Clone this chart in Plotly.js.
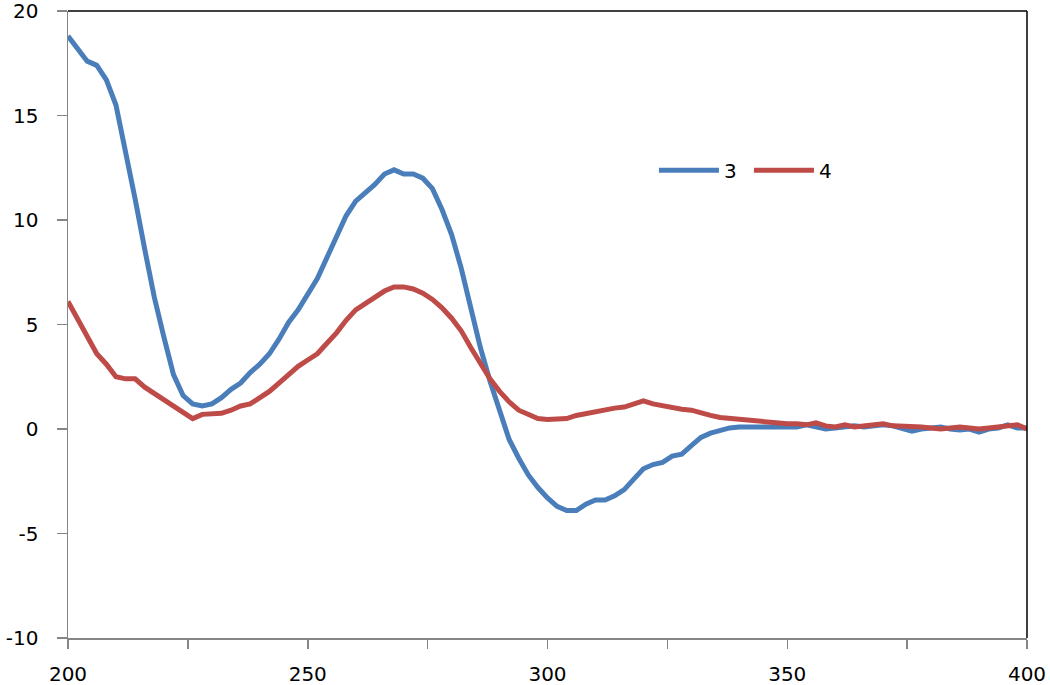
<!DOCTYPE html>
<html>
<head>
<meta charset="utf-8">
<script src="https://cdn.plot.ly/plotly-3.0.1.min.js"></script>
<style>
  body { margin: 0; background: #fff; }
  #chart { width: 1050px; height: 685px; }
</style>
</head>
<body>
<div id="chart"></div>
<script>
// wavelength (nm), every 2 nm
var wavelength = [];
for (var w = 200; w <= 400; w += 2) wavelength.push(w);

// series "3" (blue)
var series3 = [
  18.8, 18.2, 17.6, 17.4, 16.7, 15.5, 13.3, 11.0, 8.6, 6.3,
  4.4, 2.6, 1.6, 1.2, 1.1, 1.2, 1.5, 1.9, 2.2, 2.7,
  3.1, 3.6, 4.3, 5.1, 5.7, 6.4, 7.2, 8.2, 9.2, 10.2,
  10.9, 11.3, 11.7, 12.2, 12.4, 12.2, 12.2, 12.0, 11.5, 10.5,
  9.3, 7.7, 5.8, 3.9, 2.3, 0.8, -0.5, -1.4, -2.2, -2.8,
  -3.3, -3.7, -3.9, -3.9, -3.6, -3.4, -3.4, -3.2, -2.9, -2.4,
  -1.9, -1.7, -1.6, -1.3, -1.2, -0.8, -0.4, -0.2, -0.05, 0.05,
  0.1, 0.1, 0.15, 0.1, 0.15, 0.15, 0.1, 0.2, 0.1, 0.0,
  0.05, 0.1, 0.15, 0.1, 0.15, 0.2, 0.15, 0.0, -0.1, 0.0,
  0.05, 0.1, 0.0, -0.05, 0.0, -0.15, 0.0, 0.05, 0.2, 0.05,
  0.05
];

// series "4" (red)
var series4 = [
  6.1, 5.3, 4.4, 3.6, 3.1, 2.5, 2.4, 2.4, 2.0, 1.7,
  1.4, 1.1, 0.8, 0.5, 0.7, 0.75, 0.75, 0.9, 1.1, 1.2,
  1.5, 1.8, 2.2, 2.6, 3.0, 3.3, 3.6, 4.1, 4.6, 5.2,
  5.7, 6.0, 6.3, 6.6, 6.8, 6.8, 6.7, 6.5, 6.2, 5.8,
  5.3, 4.7, 3.9, 3.1, 2.4, 1.8, 1.3, 0.9, 0.7, 0.5,
  0.45, 0.5, 0.5, 0.65, 0.75, 0.8, 0.9, 1.0, 1.05, 1.2,
  1.35, 1.2, 1.1, 1.05, 0.95, 0.9, 0.75, 0.65, 0.55, 0.5,
  0.45, 0.45, 0.35, 0.3, 0.3, 0.25, 0.25, 0.2, 0.3, 0.15,
  0.1, 0.2, 0.1, 0.15, 0.2, 0.25, 0.15, 0.15, 0.1, 0.1,
  0.05, 0.0, 0.05, 0.1, 0.05, 0.0, 0.05, 0.1, 0.15, 0.2,
  0.0
];

// y tick labels use a plain hyphen like the original
var yTickVals = [-10, -5, 0, 5, 10, 15, 20];
var yTickText = ['-10', '-5', '0', '5', '10', '15', '20'];

var axisGray = '#868686';
var font = { family: 'DejaVu Sans, sans-serif', size: 20, color: '#000' };

var traces = [
  { x: wavelength, y: series3, name: '3', type: 'scatter', mode: 'lines',
    line: { color: '#4A7EBB', width: 5 } },
  { x: wavelength, y: series4, name: '4', type: 'scatter', mode: 'lines',
    line: { color: '#BE4B48', width: 5 } }
];

var layout = {
  width: 1050, height: 685,
  margin: { l: 68, r: 23, t: 11, b: 47 },
  paper_bgcolor: '#fff', plot_bgcolor: '#fff',
  font: font,
  showlegend: true,
  legend: {
    orientation: 'h', x: 0.611, y: 0.746, xanchor: 'left', yanchor: 'middle',
    bgcolor: 'rgba(0,0,0,0)', itemwidth: 60, entrywidth: 20, font: font
  },
  xaxis: {
    range: [200, 400], dtick: 50, tick0: 200,
    showgrid: false, zeroline: false,
    showline: true, linecolor: axisGray, linewidth: 1.5,
    ticks: 'outside', ticklen: 9, tickcolor: axisGray, tickwidth: 1.5,
    minor: { dtick: 25, ticks: 'outside', ticklen: 9, tickcolor: axisGray, tickwidth: 1.5 },
    ticklabelstandoff: 8, ticklabeloverflow: 'allow'
  },
  yaxis: {
    range: [-10, 20], tickmode: 'array', tickvals: yTickVals, ticktext: yTickText,
    showgrid: false, zeroline: false,
    showline: true, linecolor: axisGray, linewidth: 1.5,
    ticks: 'outside', ticklen: 10, tickcolor: axisGray, tickwidth: 1.5,
    ticklabelstandoff: 14, ticklabeloverflow: 'allow'
  },
  shapes: [
    { type: 'line', xref: 'paper', yref: 'paper', x0: 0, x1: 1, y0: 1, y1: 1,
      line: { color: '#000', width: 1.5 } },
    { type: 'line', xref: 'paper', yref: 'paper', x0: 1, x1: 1, y0: 0, y1: 1,
      line: { color: '#000', width: 1.5 } }
  ]
};

Plotly.newPlot('chart', traces, layout, { displayModeBar: false, staticPlot: true });
</script>
</body>
</html>
